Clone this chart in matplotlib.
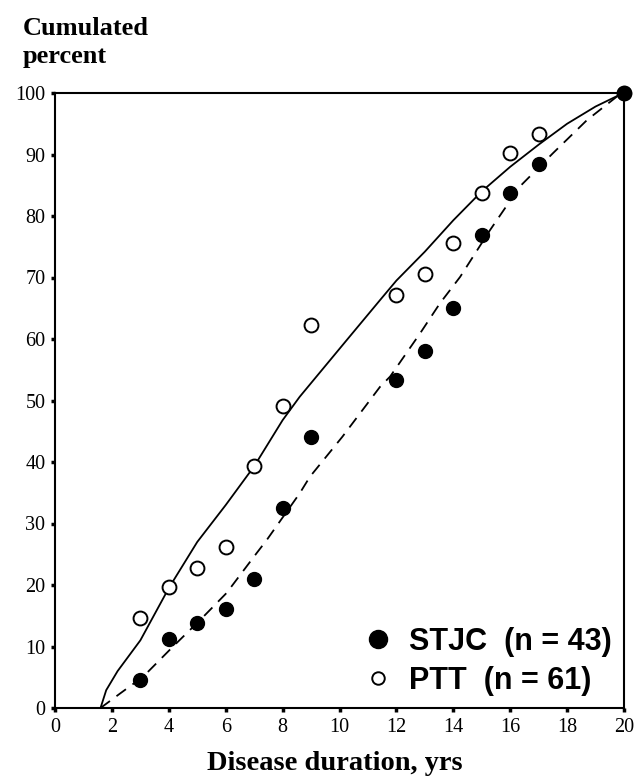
import matplotlib
matplotlib.use("Agg")
import matplotlib.pyplot as plt
from matplotlib.lines import Line2D

# disease duration (yrs) of the plotted points
years = [3, 4, 5, 6, 7, 8, 9, 12, 13, 14, 15, 16, 17, 20]
stjc_pct = [4.5, 11.3, 13.8, 16.1, 20.9, 32.5, 44.1, 53.3, 58.1, 65.0, 76.9, 83.7, 88.5, 100]
ptt_pct = [14.6, 19.6, 22.8, 26.2, 39.3, 49.1, 62.3, 67.2, 70.6, 75.6, 83.8, 90.3, 93.4, 100]

# fitted curves
ptt_fit_x = [1.6, 1.8, 2.2, 3.0, 4.0, 5.0, 6.0, 7.0, 8.0, 8.6, 10.25, 11.42, 12.0, 13.0, 14.0, 15.0, 16.0, 17.0, 18.0, 19.0, 19.8]
ptt_fit_y = [0.0, 2.9, 6.0, 11.0, 19.5, 27.0, 33.0, 39.3, 46.8, 50.6, 59.8, 66.3, 69.5, 74.2, 79.3, 84.0, 88.0, 91.6, 95.0, 97.8, 99.6]
stjc_fit_x = [1.6, 2.3, 3.1, 4.15, 5.1, 6.03, 7.09, 7.44, 8.6, 8.96, 10.1, 10.72, 11.42, 11.78, 12.83, 13.53, 14.24, 15.29, 16.34, 17.5, 18.7, 19.8]
stjc_fit_y = [0.0, 2.4, 5.1, 10.0, 14.3, 18.7, 25.2, 27.3, 34.9, 37.6, 44.1, 47.9, 52.2, 53.9, 60.9, 65.8, 70.1, 77.7, 84.8, 90.2, 95.6, 99.6]

xticks = list(range(0, 21, 2))
yticks = list(range(0, 101, 10))

serif = "Liberation Serif"
sans = "Liberation Sans"

fig = plt.figure(figsize=(6.38, 7.78), dpi=100)
ax = fig.add_axes([55 / 638, 70 / 778, 569 / 638, 615 / 778])

ax.plot(ptt_fit_x, ptt_fit_y, color="black", lw=1.3)
ax.plot(stjc_fit_x, stjc_fit_y, color="black", lw=1.3, linestyle=(0, (6.5, 4.5)))

ax.plot(years, ptt_pct, "o", ms=10, mfc="white", mec="black", mew=1.4, clip_on=False)
ax.plot(years, stjc_pct, "o", ms=10, mfc="black", mec="black", clip_on=False, zorder=4)

ax.set_xlim(0, 20)
ax.set_ylim(0, 100)
ax.set_xticks(xticks)
ax.set_yticks(yticks)
ax.tick_params(direction="out", length=3, width=2.5, labelsize=14.5, pad=4)
for lab in ax.get_xticklabels() + ax.get_yticklabels():
    lab.set_fontfamily(serif)
for side in ["left", "bottom", "right", "top"]:
    ax.spines[side].set_linewidth(1.5)

handles = [
    Line2D([], [], marker="o", ls="none", ms=13, mfc="black", mec="black"),
    Line2D([], [], marker="o", ls="none", ms=9, mfc="white", mec="black", mew=1.4),
]
ax.legend(handles, ["STJC  (n = 43)", "PTT  (n = 61)"], loc="lower right",
          frameon=False, handlelength=0.8, handletextpad=0.6, labelspacing=0.3,
          borderpad=0, borderaxespad=0.4,
          prop={"family": sans, "weight": "bold", "size": 22})

fig.text(23 / 638, 1 - 35 / 778, "Cumulated", family=serif, weight="bold",
         fontsize=19, ha="left", va="baseline")
fig.text(23 / 638, 1 - 63 / 778, "percent", family=serif, weight="bold",
         fontsize=19, ha="left", va="baseline")
fig.text(335 / 638, 8 / 778, "Disease duration, yrs", family=serif, weight="bold",
         fontsize=20.5, ha="center", va="baseline")

fig.savefig("out.png", dpi=100)
